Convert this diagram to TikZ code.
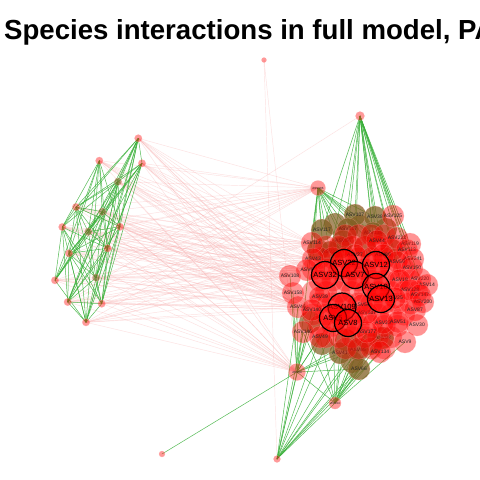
\documentclass[tikz,border=0pt]{standalone}
\usepackage{fontspec}
\setmainfont{Liberation Sans}
\definecolor{brownc}{RGB}{130,95,35}
\definecolor{edgegreen}{RGB}{55,175,55}
\definecolor{edgepink}{RGB}{250,175,175}
\begin{document}
\begin{tikzpicture}[x=1pt,y=-1pt,
  ge/.style={draw=edgegreen,line width=0.5pt,draw opacity=0.85},
  pe/.style={draw=edgepink,line width=0.45pt,draw opacity=0.38},
  vtxr/.style={circle,inner sep=0pt,minimum size=22pt,fill=red,fill opacity=0.42,draw=white!65!red,draw opacity=0.5,line width=0.3pt,text opacity=1},
  vtxb/.style={circle,inner sep=0pt,minimum size=22pt,fill=brownc,fill opacity=0.75,draw=white!65!red,draw opacity=0.5,line width=0.3pt,text opacity=1},
  bigv/.style={circle,inner sep=0pt,minimum size=27pt,fill=red,fill opacity=0.6,draw=black,line width=1.2pt,text opacity=1,font=\fontsize{7.5}{7.5}\selectfont},
  smallv/.style={circle,inner sep=0pt,fill=red,fill opacity=0.4,draw=white!65!red,draw opacity=0.6,line width=0.3pt,text opacity=1},
  smallb/.style={circle,inner sep=0pt,fill=brownc,fill opacity=0.55,draw=white!65!red,draw opacity=0.6,line width=0.3pt},
  lab/.style={font=\fontsize{5}{5}\selectfont,text=black!85,text opacity=1,inner sep=0pt},
  gridfill/.style={fill=red,fill opacity=0.36,draw=white!60!red,draw opacity=0.4,line width=0.3pt},
  brownfill/.style={fill=brownc,fill opacity=0.7}]
\useasboundingbox (0,0) rectangle (480,480);
\clip (0,0) rectangle (480,480);
\fill[white] (0,0) rectangle (480,480);
% left cluster coordinates
\foreach \n/\x/\y in {1/138.3/138.3,2/99.3/160.7,3/142/163.3,4/118/181.7,5/76/207,6/102.3/211.7,7/62.3/227,8/120/226.7,9/88.3/231.7,10/69/253.3,11/107.7/248.3,12/55/280.3,13/96/277.7,14/67.7/302,15/101.7/303.7,16/86/322.3}
  {\coordinate (L\n) at (\x,\y);}
% outer nodes
\coordinate (T1) at (264,60);
\coordinate (T2) at (360,116);
\coordinate (T3) at (318,188);
\coordinate (B1) at (297,372);
\coordinate (B2) at (335,403);
\coordinate (B3) at (277,459);
\coordinate (B4) at (162,454);
% cluster coordinates
\def\brownlist{c1/355/215/ASV107,c2/375/217/ASV38,c4/322/230/ASV117,c5/348/229/ASV217,c6/373/233/ASV138,c8/343/241/ASV56,c12/330/252/ASV21,c37/340/353/ASV41,c38/358/350/ASV65,c42/383/338/ASV92,c47/359/369/ASV66}
\def\redlist{c3/393/216/ASV125,c7/312/243/ASV114,c9/377/241/ASV44,c10/397/238/ASV222,c11/410/244/ASV119,c13/355/255/ASV27,c14/383/255/ASV80,c15/407/250/ASV113,c16/313/259/ASV43,c17/307/270/ASV6,c18/290/276/ASV108,c19/413/259/ASV241,c20/397/262/ASV59,c21/412/268/ASV150,c22/420/279/ASV220,c23/427/285/ASV14,c24/400/280/ASV18,c25/410/290/ASV128,c26/420/295/ASV147,c27/423/302/ASV200,c28/415/310/ASV87,c29/417/325/ASV30,c30/405/342/ASV9,c31/293/293/ASV158,c32/298/307/ASV46,c33/320/297/ASV39,c34/312/310/ASV140,c35/303/332/ASV146,c36/320/337/ASV49,c39/380/352/ASV134,c40/383/323/ASV33,c41/398/322/ASV51,c43/367/332/ASV177,c44/367/313/ASV207,c45/395/298/ASV25,c46/362/305/ASV54}
\def\biglist{k1/344/263/ASV22,k2/325/275/ASV32,k3/355/275/ASV7,k4/376/265/ASV12,k5/376/287/ASV10,k6/381/299/ASV13,k7/342/307/ASV109,k8/333/318/ASV5,k9/348/323/ASV8}
\foreach \n/\x/\y/\t in \brownlist {\coordinate (\n) at (\x,\y);}
\foreach \n/\x/\y/\t in \redlist {\coordinate (\n) at (\x,\y);}
\foreach \n/\x/\y/\t in \biglist {\coordinate (\n) at (\x,\y);}
% pink edges
\foreach \i in {1,...,16}{
  \foreach \t in {T3,B1,c18,c17,c31,c7,c32,c16,c34}{\draw[pe] (L\i) -- (\t);}}
\draw[pe] (T1) -- (B1);
\draw[pe] (T1) -- (B3);
\draw[pe] (T2) -- (L14);
% left cluster edges
\foreach \i in {1,...,15}{
  \pgfmathtruncatemacro{\ii}{\i+1}
  \foreach \j in {\ii,...,16}{
    \pgfmathtruncatemacro{\k}{mod(\i*7+\j*11,10)}
    \ifnum\k<7 \draw[ge] (L\i) -- (L\j);\fi}}
% green edges right
\foreach \t in {c1,c2,c3,c4,c5,c6,c8,c9,c10,c11,c12,c13,c14,c15,c19,c20,c24,k4,c21,c22}{\draw[ge] (T2) -- (\t);}
\foreach \t in {c1,c4,c5,c7,c8,c12,c13,c16,c17,c6,c2,k1,k2,c14,c9,B1}{\draw[ge] (T3) -- (\t);}
\draw[ge] (c18) -- (B1);
\foreach \t in {c31,c32,c34,c35,c36,c37,c38,c33,k8,c43,c47,B2,B3,B4}{\draw[ge] (B1) -- (\t);}
\foreach \t in {c35,c36,c37,c38,c39,c42,c43,c47,c30,c40,k9,c44,k8}{\draw[ge] (B2) -- (\t);}
\foreach \t in {c32,c34,c35,c36,c37,c38,c47,c43,c42,c39,k7,B2}{\draw[ge] (B3) -- (\t);}
% brownish under-layer where green edges are dense
\foreach \x/\y in {335/224,360/226,386/229,340/248,365/246,392/250,318/250,322/344,346/340,371/344,352/362,310/322}
  {\fill[brownfill] (\x,\y) circle (11pt);}
% brown cluster nodes (under the red ones)
\foreach \n/\x/\y/\t in \brownlist {\node[vtxb,label={[lab]center:\t}] (n\n) at (\n) {};}
% grid filler circles of the dense cluster
\foreach \r in {0,...,12}{
  \foreach \c in {0,...,9}{
    \pgfmathsetmacro{\gx}{300+\c*13+mod(\r,2)*6.5}
    \pgfmathsetmacro{\gy}{224+\r*11.3}
    \pgfmathsetmacro{\gd}{((\gx-362)/56)^2+((\gy-290)/64)^2}
    \ifdim \gd pt<1pt \fill[gridfill] (\gx,\gy) circle (11pt);\fi}}
% red cluster nodes
\foreach \n/\x/\y/\t in \redlist {\node[vtxr,label={[lab]center:\t}] (n\n) at (\n) {};}
\foreach \n/\x/\y/\t in \biglist {\node[bigv] (n\n) at (\n) {\t};}
% left cluster nodes
\foreach \n in {1,2,3,5,7,8,10,11,12,14,15,16}{\node[smallv,minimum size=7.5pt] (nL\n) at (L\n) {};}
\foreach \n in {4,6,9,13}{\node[smallb,minimum size=7.5pt] (nL\n) at (L\n) {};}
% outer nodes
\node[smallv,minimum size=5pt] (nT1) at (T1) {};
\node[smallv,minimum size=9pt] (nT2) at (T2) {};
\node[smallv,minimum size=15pt,label={[lab,font=\fontsize{3}{3}\selectfont]center:ASV186}] (nT3) at (T3) {};
\node[smallv,minimum size=17pt,label={[lab,font=\fontsize{3}{3}\selectfont]center:ASV60}] (nB1) at (B1) {};
\node[smallv,minimum size=12pt,label={[lab,font=\fontsize{3}{3}\selectfont]center:ASV94}] (nB2) at (B2) {};
\node[smallv,minimum size=7pt] (nB3) at (B3) {};
\node[smallv,minimum size=6pt] (nB4) at (B4) {};
% title
\node[anchor=base west,inner sep=0pt,font=\fontsize{27.6}{27.6}\selectfont\bfseries] (title) at (4,39) {Species interactions in full model, PA};
\end{tikzpicture}
\end{document}
